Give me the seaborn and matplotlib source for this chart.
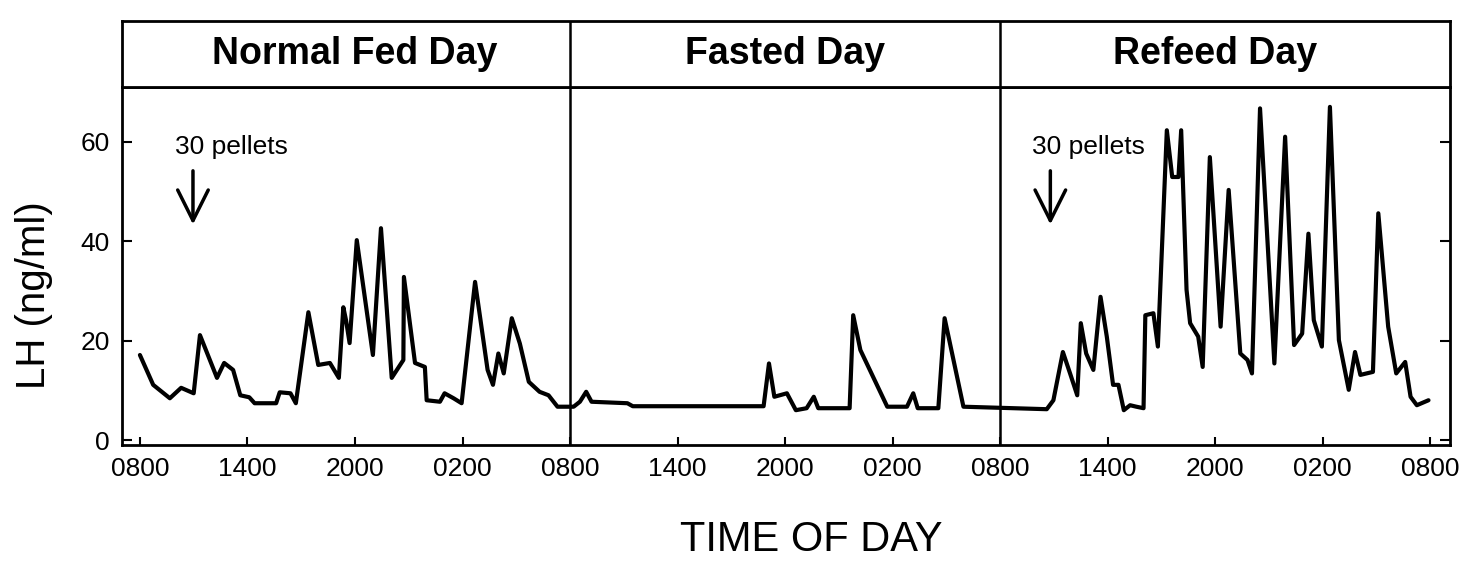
import matplotlib
matplotlib.use("Agg")
import matplotlib.pyplot as plt
import seaborn as sns
import pandas as pd

# ---- data (hours since first 08:00, LH in ng/ml) ----
hours = [0.0, 0.74, 1.67, 2.3, 3.0, 3.35, 4.3, 4.7, 5.2, 5.6, 6.1, 6.4, 7.6, 7.8, 8.4, 8.7,
         9.4, 9.95, 10.6, 11.1, 11.35, 11.5, 11.7, 12.1, 13.0, 13.45, 14.05, 14.7, 14.73,
         15.35, 15.9, 16.0, 16.74, 17.0, 17.5, 17.95, 18.7, 19.4, 19.7, 20.0, 20.3, 20.75,
         21.2, 21.7, 22.3, 22.8, 23.3, 24.2, 24.55, 24.9, 25.2, 27.2, 27.5, 34.8, 35.1, 35.4,
         36.1, 36.6, 37.2, 37.6, 37.85, 39.6, 39.8, 40.2, 41.7, 42.8, 43.15, 43.4, 44.55,
         44.9, 45.95, 50.6, 50.97, 51.5, 51.9, 52.3, 52.5, 52.8, 53.2, 53.6, 53.95, 54.3,
         54.6, 54.9, 55.25, 55.6, 56.0, 56.1, 56.55, 56.8, 57.3, 57.6, 57.95, 58.1, 58.4,
         58.6, 59.05, 59.3, 59.7, 60.3, 60.75, 61.4, 61.8, 62.05, 62.5, 63.3, 63.9, 64.4,
         64.85, 65.2, 65.5, 65.95, 66.4, 66.9, 67.45, 67.8, 68.1, 68.8, 69.1, 69.65, 70.1,
         70.6, 70.9, 71.25, 71.9]
lh = [17.1, 11.1, 8.4, 10.5, 9.4, 21.1, 12.5, 15.5, 14.1, 9.0, 8.6, 7.4, 7.4, 9.6, 9.4, 7.4,
      25.7, 15.1, 15.5, 12.5, 26.7, 24.1, 19.5, 40.2, 17.1, 42.6, 12.5, 16.1, 32.8,
      15.5, 14.7, 8.0, 7.7, 9.4, 8.4, 7.4, 31.8, 14.1, 11.1, 17.4, 13.4, 24.5,
      19.4, 11.7, 9.7, 9.0, 6.7, 6.7, 7.7, 9.7, 7.7, 7.4, 6.8, 6.8, 15.4, 8.7,
      9.4, 6.0, 6.4, 8.7, 6.4, 6.4, 25.1, 18.1, 6.7, 6.7, 9.4, 6.4, 6.4,
      24.5, 6.7, 6.2, 8.0, 17.7, 13.4, 9.0, 23.5, 17.4, 14.1, 28.8, 20.8, 11.1,
      11.1, 6.0, 7.0, 6.7, 6.4, 25.1, 25.5, 18.8, 62.3, 52.9, 52.9, 62.3, 30.2,
      23.5, 20.8, 14.7, 56.9, 22.8, 50.3, 17.4, 16.1, 13.4, 66.7, 15.4, 61.0, 19.1,
      21.4, 41.5, 24.1, 18.8, 67.0, 20.1, 10.1, 17.7, 13.1, 13.7, 45.6, 22.8, 13.4,
      15.7, 8.7, 7.0, 8.0]

day_titles = ["Normal Fed Day", "Fasted Day", "Refeed Day"]
day_centers = [12, 36, 60]
day_bounds = [24, 48]
xtick_pos = list(range(0, 73, 6))
xtick_labels = ["0800", "1400", "2000", "0200"] * 3 + ["0800"]
ytick_pos = [0, 20, 40, 60]
pellet_times = [2.96, 50.8]
pellet_text_x = [1.95, 49.8]

df = pd.DataFrame({"hour": hours, "LH": lh})

sns.set_style("ticks")
plt.rcParams["font.family"] = ["Liberation Sans", "DejaVu Sans"]
plt.rcParams["text.color"] = "black"
plt.rcParams["axes.labelcolor"] = "black"
plt.rcParams["xtick.color"] = "black"
plt.rcParams["ytick.color"] = "black"

fig = plt.figure(figsize=(14.79, 5.84), dpi=100)
W, H = 1479, 584
left, right = 122 / W, 1450 / W
ax = fig.add_axes([left, (H - 445) / H, right - left, (445 - 87) / H])
axh = fig.add_axes([left, (H - 87) / H, right - left, (87 - 21) / H])

sns.lineplot(data=df, x="hour", y="LH", ax=ax, color="black", linewidth=3.0,
             estimator=None, sort=False)

xlim = (-1.0, 73.1)
ax.set_xlim(*xlim)
ax.set_ylim(-1.0, 71.0)
ax.set_xticks(xtick_pos)
ax.set_xticklabels(xtick_labels)
ax.set_yticks(ytick_pos)
ax.tick_params(axis="x", direction="in", length=6, width=1.5, labelsize=19, pad=9)
ax.tick_params(axis="y", direction="in", length=7, width=1.5, labelsize=19, pad=9,
               right=True)
for s in ax.spines.values():
    s.set_visible(True)
    s.set_linewidth(2.0)
    s.set_color("black")
for b in day_bounds:
    ax.axvline(b, color="black", linewidth=1.8)
    axh.axvline(b, color="black", linewidth=1.8)

ax.set_xlabel("TIME OF DAY", fontsize=30)
ax.set_ylabel("LH (ng/ml)", fontsize=29)
ax.xaxis.set_label_coords((811 - 122) / 1328, -0.21)
ax.yaxis.set_label_coords(-0.052, 0.42)

for tx, px in zip(pellet_text_x, pellet_times):
    ax.text(tx, 57.5, "30 pellets", fontsize=19, ha="left", va="baseline")
    ax.annotate("", xy=(px, 42.8), xytext=(px, 54.7),
                arrowprops=dict(arrowstyle="->,head_length=1.1,head_width=0.55",
                                mutation_scale=20, lw=2.5, color="black"))

axh.set_xlim(*xlim)
axh.set_ylim(0, 1)
axh.set_xticks([])
axh.set_yticks([])
for s in axh.spines.values():
    s.set_visible(True)
    s.set_linewidth(2.0)
    s.set_color("black")
for t, c in zip(day_titles, day_centers):
    axh.text(c, 0.5, t, fontsize=27, fontweight="bold", ha="center", va="center")

fig.savefig("out.png", dpi=100, facecolor="white")
